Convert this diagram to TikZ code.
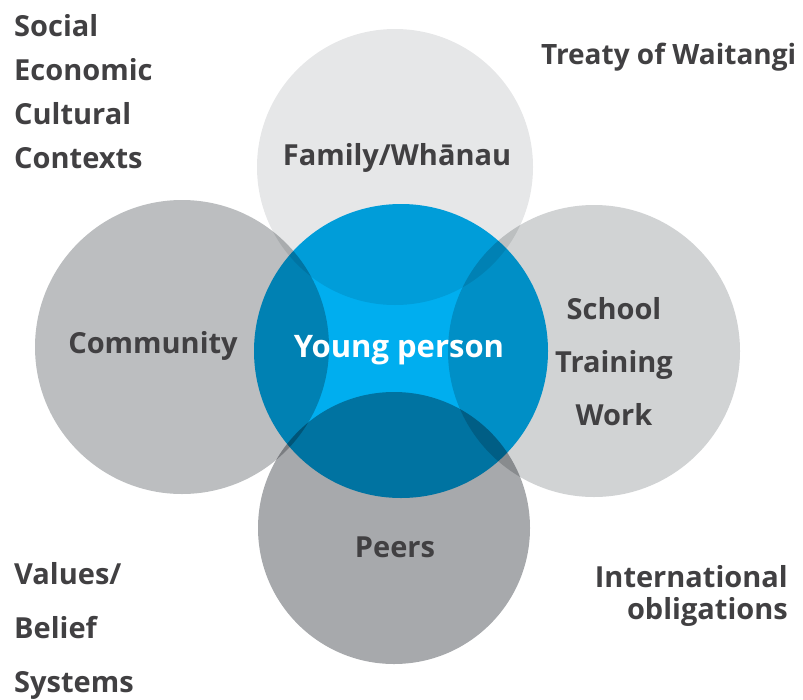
\documentclass[tikz,border=0pt]{standalone}
\usepackage{fontspec}
\setmainfont{Open Sans}
\usepackage{tikz}
\usetikzlibrary{positioning, calc}

\definecolor{txtgray}{HTML}{414042}
\definecolor{familygray}{HTML}{E6E7E8}
\definecolor{communitygray}{HTML}{BCBEC0}
\definecolor{schoolgray}{HTML}{D1D3D4}
\definecolor{peersgray}{HTML}{A7A9AC}
\definecolor{youngblue}{HTML}{00AEEF}

\begin{document}
\begin{tikzpicture}[
    x=1pt, y=-1pt,
    ring/.style={circle, inner sep=0pt, minimum size=#1},
    label/.style={text=txtgray, font=\fontsize{29}{44}\selectfont\bfseries, inner sep=0pt},
    context/.style={label, align=left, anchor=base west}
]
    \useasboundingbox (0,0) rectangle (803,699);

    % circles, multiplied where they overlap
    \begin{scope}[blend group=multiply]
        \node [ring=294pt, fill=youngblue] (young) at (401,351) {};
        \node [ring=276pt, fill=familygray] (family) at (395,167) {};
        \node [ring=294pt, fill=communitygray] (community) at (182,347) {};
        \node [ring=292pt, fill=schoolgray] (school) at (594,351) {};
        \node [ring=272pt, fill=peersgray] (peers) at (394,528) {};
    \end{scope}

    % circle texts (base = last line)
    \node [label, anchor=base] (familytxt) at (397,165) {Family/Wh\=anau};
    \node [label, anchor=base] (communitytxt) at (153,353) {Community};
    \node [label, anchor=base, text=white, font=\fontsize{31}{36}\selectfont\bfseries] (youngtxt) at (399,357) {Young person};
    \node [label, anchor=base, align=center, font=\fontsize{29}{53}\selectfont\bfseries] (schooltxt) at (614,425) {School\\Training\\Work};
    \node [label, anchor=base] (peerstxt) at (395,557) {Peers};

    % contexts round the edge
    \node [context] (contexts) at (14,168) {Social\\Economic\\Cultural\\Contexts};
    \node [label, anchor=base west, font=\fontsize{28}{34}\selectfont\bfseries] (treaty) at (541,64) {Treaty of Waitangi};
    \node [context, font=\fontsize{29}{54}\selectfont\bfseries] (values) at (14,692) {Values/\\Belief\\Systems};
    \node [label, align=right, anchor=base east, font=\fontsize{29}{32}\selectfont\bfseries] (intl) at (788,619) {International\\obligations};

\end{tikzpicture}
\end{document}
